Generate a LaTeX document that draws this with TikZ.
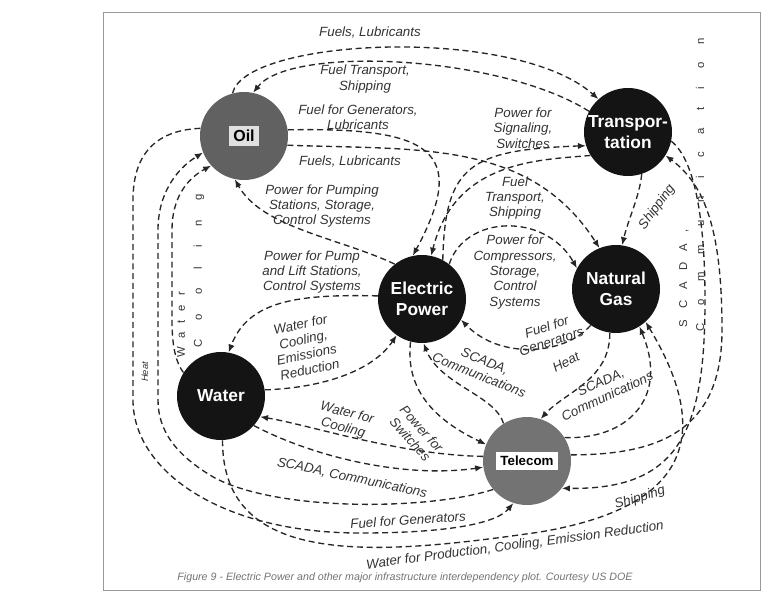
\documentclass[tikz,border=0pt]{standalone}
\usepackage{fontspec}
\setmainfont{Liberation Sans}
\usetikzlibrary{arrows.meta}

\tikzset{
  hub/.style={circle, minimum size=66pt, inner sep=0pt, align=center, text=white, fill=black!92, font=\bfseries\fontsize{13}{16}\selectfont},
  hubgray/.style={hub, fill=black!62, text=black},
  flow/.style={draw=black!85, line width=1pt, dash pattern=on 4.5pt off 2.8pt, -{Latex[length=6pt,width=4.8pt]}},
  tag/.style={font=\itshape\fontsize{10}{11.5}\selectfont, align=center, text=black!80, inner sep=1pt},
  vtag/.style={rotate=90, anchor=west, inner sep=0pt, text=black!80},
}

\begin{document}
\begin{tikzpicture}[x=0.75pt,y=0.75pt,yscale=-1,xscale=1]
\useasboundingbox (0,0) rectangle (784,601);

%Shape: Frame
\draw [color=black!40, line width=0.6] (103,12) rectangle (760,590);

%Shape: Circles
\node [hubgray] (oil) at (244,136) {\colorbox{black!12}{\fontsize{12}{12}\selectfont Oil}};
\node [hub] (trans) at (628,132) {Transpor-\\tation};
\node [hub] (elec) at (422,299) {Electric\\Power};
\node [hub] (gas) at (616,289) {Natural\\Gas};
\node [hub] (water) at (221,396) {Water};
\node [hubgray, fill=black!55] (tele) at (527,461) {\colorbox{white}{\fontsize{10}{10}\selectfont Telecom}};

%Curve Lines: top
\draw [flow] (oil.105) .. controls (245,38) and (515,25) .. (trans.132) ;
\draw [flow] (trans.152) .. controls (500,55) and (290,45) .. (oil.78) ;
\draw [flow] (oil.8) .. controls (430,127) and (470,150) .. (elec.102) ;
\draw [flow] (oil.-12) .. controls (420,150) and (530,140) .. (gas.112) ;
\draw [flow] (elec.62) .. controls (445,165) and (470,150) .. (trans.198) ;
\draw [flow] (trans.212) .. controls (540,160) and (455,160) .. (elec.78) ;
\draw [flow] (trans.-72) .. controls (640,195) and (628,220) .. (gas.82) ;

%Curve Lines: middle
\draw [flow] (elec.52) .. controls (465,215) and (545,212) .. (gas.152) ;
\draw [flow] (gas.235) .. controls (565,355) and (500,360) .. (elec.-28) ;
\draw [flow] (elec.128) .. controls (340,238) and (262,228) .. (oil.-102) ;
\draw [flow] (elec.176) .. controls (300,294) and (248,300) .. (water.80) ;
\draw [flow] (water.8) .. controls (320,388) and (372,372) .. (elec.-125) ;
\draw [flow] (tele.122) .. controls (495,395) and (440,385) .. (elec.-88) ;
\draw [flow] (elec.-105) .. controls (405,390) and (435,420) .. (tele.158) ;
\draw [flow] (gas.-98) .. controls (610,380) and (565,392) .. (tele.72) ;
\draw [flow] (tele.32) .. controls (625,440) and (670,400) .. (gas.-58) ;

%Curve Lines: water and telecom
\draw [flow] (tele.174) .. controls (400,455) and (310,425) .. (water.-28) ;
\draw [flow] (water.-42) .. controls (320,460) and (410,478) .. (tele.-172) ;

%Curve Lines: left side
\draw [flow] (oil.170) .. controls (160,130) and (133,150) .. (133,200) -- (133,400) .. controls (133,470) and (220,533) .. (360,533) .. controls (440,533) and (495,525) .. (tele.-108) ;
\draw [flow] (tele.-140) .. controls (430,510) and (280,512) .. (215,478) .. controls (175,455) and (158,430) .. (158,400) -- (158,230) .. controls (158,195) and (175,170) .. (oil.-158) ;
\draw [flow] (water.148) .. controls (174,360) and (172,340) .. (172,320) -- (172,230) .. controls (172,200) and (185,180) .. (oil.-138) ;

%Curve Lines: right side and bottom
\draw [flow] (trans.-12) .. controls (695,160) and (705,220) .. (705,300) .. controls (705,430) and (680,490) .. (tele.-38) ;
\draw [flow] (tele.8) .. controls (660,455) and (722,430) .. (722,330) .. controls (722,230) and (705,185) .. (trans.-32) ;
\draw [flow] (water.-88) .. controls (222,570) and (380,555) .. (540,532) .. controls (640,515) and (735,470) .. (gas.-48) ;

% Text Node
\node [tag] (tFuelsTop) at (370,33) {Fuels, Lubricants};
\node [tag] (tTransOil) at (365,79) {Fuel Transport,\\Shipping};
\node [tag] (tGenOil) at (358,117) {Fuel for Generators,\\Lubricants};
\node [tag] (tFuelsGas) at (350,162) {Fuels, Lubricants};
\node [tag] (tSignal) at (523,128) {Power for\\Signaling,\\Switches};
\node [tag] (tTransElec) at (515,198) {Fuel\\Transport,\\Shipping};
\node [tag, rotate=54] (tShipGas) at (657,207) {Shipping};
\node [tag] (tCompress) at (515,272) {Power for\\Compressors,\\Storage,\\Control\\Systems};
\node [tag, rotate=18] (tGenGas) at (549,334) {Fuel for\\Generators};
\node [tag] (tPumpOil) at (322,206) {Power for Pumping\\Stations, Storage,\\Control Systems};
\node [tag] (tPumpWater) at (312,272) {Power for Pump\\and Lift Stations,\\Control Systems};
\node [tag, rotate=12] (tCoolElec) at (305,347) {Water for\\Cooling,\\Emissions\\Reduction};
\node [tag, rotate=-22] (tScadaElec) at (482,368) {SCADA,\\Communications};
\node [tag, rotate=-48] (tSwitch) at (416,434) {Power for\\Switches};
\node [tag, rotate=28] (tHeat) at (566,362) {Heat};
\node [tag, rotate=25] (tScadaGas) at (604,389) {SCADA,\\Communications};
\node [tag, rotate=-15] (tCoolTele) at (345,421) {Water for\\Cooling};
\node [tag, rotate=-12] (tScadaWater) at (352,478) {SCADA, Communications};
\node [tag, rotate=4] (tGenTele) at (408,520) {Fuel for Generators};
\node [tag, rotate=17] (tShipTele) at (640,498) {Shipping};
\node [tag, rotate=7.5] (tProduce) at (515,546) {Water for Production, Cooling, Emission Reduction};
\node [tag, rotate=90, font=\itshape\fontsize{7}{7}\selectfont] (tHeatLeft) at (145,372) {Heat};

% Text Node: spaced vertical words
\node [vtag, font=\fontsize{8.5}{9}\selectfont\addfontfeatures{LetterSpace=79}] (tWaterV) at (181,358) {Water};
\node [vtag, font=\fontsize{8.5}{9}\selectfont\addfontfeatures{LetterSpace=169}] (tCoolV) at (199,348) {Cooling};
\node [vtag, font=\fontsize{8.5}{9}\selectfont\addfontfeatures{LetterSpace=99}] (tScadaV) at (684,328) {SCADA,};
\node [vtag, font=\fontsize{8.5}{9}\selectfont\addfontfeatures{LetterSpace=158}] (tCommV) at (700,332) {Communication};

% Text Node: caption
\node [font=\itshape\fontsize{8}{9}\selectfont, text=black!55] (caption) at (405,578) {Figure 9 - Electric Power and other major infrastructure interdependency plot. Courtesy US DOE};

\end{tikzpicture}
\end{document}
